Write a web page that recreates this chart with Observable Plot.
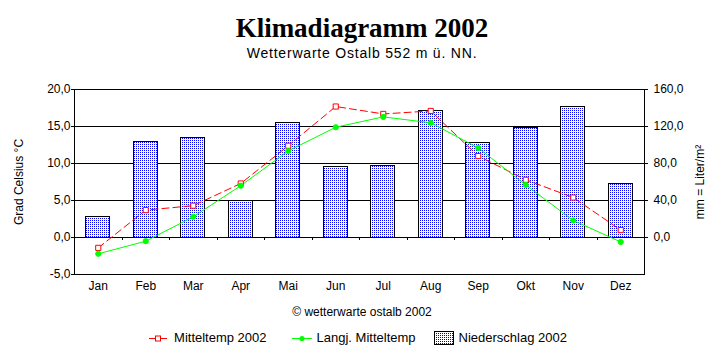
<!DOCTYPE html>
<html>
<head>
<meta charset="utf-8">
<script src="https://cdn.jsdelivr.net/npm/d3@7"></script>
<script src="https://cdn.jsdelivr.net/npm/@observablehq/plot@0.6"></script>
<style>
  body { margin: 0; background: #fff; }
  #chart { width: 724px; height: 361px; position: relative; overflow: hidden; color: #000; background: #fff; }
  #chart figure { margin: 0; }
  #chart figure h2 { margin: 0; padding-top: 13px; font: bold 27px/30px "Liberation Serif", "Times New Roman", serif; text-align: center; color: #000; }
  #chart figure h3 { margin: 1px 0 0 0; font: normal 14px/18px "Liberation Sans", Arial, sans-serif; letter-spacing: 0.8px; text-align: center; color: #000; }
  #chart figure svg { display: block; }
  #chart figure figcaption { margin: 0; font: normal 12px/16px "Liberation Sans", Arial, sans-serif; text-align: center; color: #000; }
  #legend { margin-top: 10px; display: flex; justify-content: center; align-items: center; font: normal 13px/16px "Liberation Sans", Arial, sans-serif; color: #000; padding-right: 8px; }
  #legend .item { display: flex; align-items: center; }
  #legend svg { display: block; }
</style>
</head>
<body>
<div id="chart"></div>
<script>
// ---- data ----
const months = ["Jan", "Feb", "Mar", "Apr", "Mai", "Jun", "Jul", "Aug", "Sep", "Okt", "Nov", "Dez"];
const temp2002 = [-1.4, 3.7, 4.3, 7.3, 12.4, 17.7, 16.7, 17.1, 11.0, 7.8, 5.4, 1.0];
const tempLangj = [-2.2, -0.5, 2.8, 7.0, 11.7, 14.9, 16.3, 15.5, 12.1, 7.1, 2.3, -0.6];
const precip = [22.4, 103.4, 107.8, 39.6, 124.0, 76.4, 77.5, 137.0, 102.4, 118.6, 141.3, 58.1];
const leftTicks = [-5, 0, 5, 10, 15, 20];
const rightTicks = [0, 40, 80, 120, 160];
const seriesNames = ["Mitteltemp 2002", "Langj. Mitteltemp", "Niederschlag 2002"];

// mm per °C, so that the right axis (0–160 mm) lines up with 0–20 °C
const mmPerDeg = rightTicks[rightTicks.length - 1] / leftTicks[leftTicks.length - 1];
const fmt = v => v.toFixed(1).replace(".", ",");

const data = months.map((m, i) => ({month: m, t2002: temp2002[i], langj: tempLangj[i], mm: precip[i]}));

const W = 724, mL = 74, mR = 80;
const halfStep = (W - mL - mR) / months.length / 2;

const chart = Plot.plot({
  width: W,
  height: 242,
  marginLeft: mL,
  marginRight: mR,
  marginTop: 27,
  marginBottom: 30,
  title: "Klimadiagramm 2002",
  subtitle: "Wetterwarte Ostalb 552 m ü. NN.",
  caption: "© wetterwarte ostalb 2002",
  style: {fontFamily: "'Liberation Sans', Arial, sans-serif", fontSize: "12px", color: "#000", background: "#fff", overflow: "visible"},
  x: {type: "band", domain: months, paddingInner: 0.5, paddingOuter: 0.25, align: 0.5, round: false},
  y: {domain: [leftTicks[0], leftTicks[leftTicks.length - 1]]},
  marks: [
    Plot.gridY(leftTicks.filter(t => t > leftTicks[0]), {stroke: "#000", strokeOpacity: 1, shapeRendering: "crispEdges"}),
    Plot.barY(data, {x: "month", y1: 0, y2: d => d.mm / mmPerDeg, fill: "url(#dots)", stroke: "#000", strokeWidth: 1, shapeRendering: "crispEdges"}),
    Plot.ruleX(months.slice(1), {x: d => d, y1: 0, y2: -0.42, dx: -halfStep, stroke: "#000", shapeRendering: "crispEdges"}),
    Plot.frame({stroke: "#000", shapeRendering: "crispEdges"}),
    Plot.line(data, {x: "month", y: "t2002", stroke: "#ff0000", strokeWidth: 1, strokeDasharray: "7,4"}),
    Plot.line(data, {x: "month", y: "langj", stroke: "#00ff00", strokeWidth: 1}),
    Plot.dot(data, {x: "month", y: "t2002", symbol: "square", r: 2.9, fill: "#fff", stroke: "#ff0000", strokeWidth: 1}),
    Plot.dot(data, {x: "month", y: "langj", symbol: "circle", r: 2.6, fill: "#00ff00", stroke: "#00ff00", strokeWidth: 1}),
    Plot.axisX({anchor: "bottom", tickSize: 0, tickPadding: 7, label: null}),
    Plot.axisY({anchor: "left", ticks: leftTicks, tickSize: 3, tickPadding: 1, tickFormat: fmt,
      label: "Grad Celsius °C", labelAnchor: "center", labelArrow: "none", labelOffset: 60}),
    Plot.axisY({anchor: "right", ticks: rightTicks.map(v => v / mmPerDeg), tickSize: 3, tickPadding: 6,
      tickFormat: d => fmt(d * mmPerDeg),
      label: "mm = Liter/m²", labelAnchor: "center", labelArrow: "none", labelOffset: 59})
  ]
});

// dotted fill pattern for the precipitation bars
const svg = d3.select(chart).select("svg");
const defs = svg.insert("defs", ":first-child");
const pat = defs.append("pattern").attr("id", "dots").attr("patternUnits", "userSpaceOnUse")
  .attr("width", 2).attr("height", 2);
pat.append("rect").attr("width", 2).attr("height", 2).attr("fill", "#fff").attr("shape-rendering", "crispEdges");
pat.append("rect").attr("width", 1).attr("height", 1).attr("fill", "#0000ff").attr("shape-rendering", "crispEdges");

document.getElementById("chart").appendChild(chart);

// legend
const legend = document.createElement("div");
legend.id = "legend";
const sw = [
  `<svg width="18" height="9"><line x1="0" x2="18" y1="4.5" y2="4.5" stroke="#ff0000"/><rect x="6.5" y="2" width="5" height="5" fill="#fff" stroke="#ff0000"/></svg>`,
  `<svg width="20" height="9"><line x1="0" x2="20" y1="4.5" y2="4.5" stroke="#00ff00"/><circle cx="10" cy="4.5" r="2.6" fill="#00ff00"/></svg>`,
  `<svg width="20" height="14"><rect x="0.5" y="0.5" width="19" height="13" fill="url(#dots)" stroke="#000" shape-rendering="crispEdges"/></svg>`
];
const gaps = [[7, 25], [5, 18], [5, 0]];
seriesNames.forEach((name, i) => {
  const it = document.createElement("div");
  it.className = "item";
  it.style.marginRight = gaps[i][1] + "px";
  it.innerHTML = sw[i] + `<span style="margin-left:${gaps[i][0]}px">${name}</span>`;
  legend.appendChild(it);
});
chart.appendChild(legend);
</script>
</body>
</html>
